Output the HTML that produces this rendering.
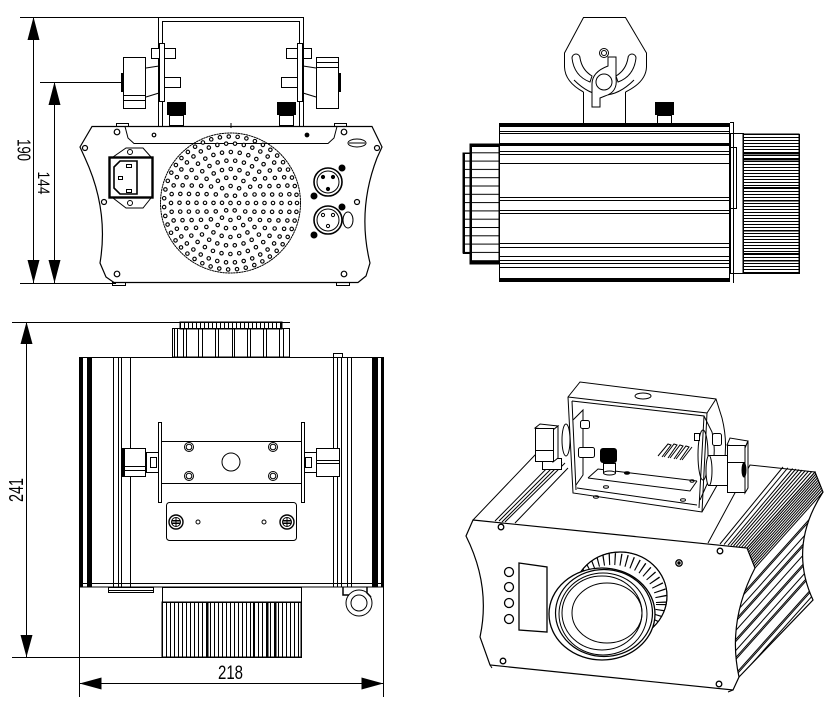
<!DOCTYPE html>
<html><head><meta charset="utf-8"><title>drawing</title>
<style>html,body{margin:0;padding:0;background:#fff;width:837px;height:707px;overflow:hidden}svg{display:block}</style>
</head><body>
<svg xmlns="http://www.w3.org/2000/svg" width="837" height="707" viewBox="0 0 837 707">
<defs>
<pattern id="hs" patternUnits="userSpaceOnUse" x="0" y="134" width="10" height="3"><rect x="0" y="0" width="10" height="1" fill="#000"/></pattern>
<pattern id="bh" patternUnits="userSpaceOnUse" x="162" y="0" width="4" height="10"><rect x="0" y="0" width="1" height="10" fill="#000"/></pattern>
<pattern id="tl" patternUnits="userSpaceOnUse" x="180" y="0" width="4" height="10"><rect x="0" y="0" width="1" height="10" fill="#000"/></pattern>
<pattern id="lr" patternUnits="userSpaceOnUse" x="0" y="144" width="10" height="8.3"><rect x="0" y="0" width="10" height="1" fill="#000"/></pattern>
<clipPath id="rf"><path d="M747,548 L815,472 L823,492 Q788,546 813,600 L739,677 Q727,622 755,568 Z"/></clipPath>
<clipPath id="kn"><ellipse cx="620" cy="596" rx="47" ry="44"/></clipPath>
</defs>
<rect width="837" height="707" fill="#fff"/>

<!-- ================= VIEW 1 : FRONT ================= -->
<g fill="none" stroke="#000" stroke-width="1">
  <line x1="20" y1="17.5" x2="160" y2="17.5"/>
  <line x1="33.5" y1="17" x2="33.5" y2="283"/>
  <line x1="40" y1="82.5" x2="122" y2="82.5"/>
  <line x1="54.5" y1="82" x2="54.5" y2="283"/>
  <line x1="20" y1="283.5" x2="116" y2="283.5"/>
  <g fill="#000" stroke="none">
    <polygon points="33.5,17 27.5,40 39.5,40"/>
    <polygon points="33.5,283 27.5,260 39.5,260"/>
    <polygon points="54.5,82 48.5,105 60.5,105"/>
    <polygon points="54.5,283 48.5,260 60.5,260"/>
  </g>

  <path d="M158.5,127 V17.5 H303.5 V127"/>
  <path d="M162.5,127 V21.5 H299.5 V127"/>
  <rect x="159.5" y="43.5" width="5" height="58" fill="#fff"/>
  <rect x="297.5" y="43.5" width="5" height="58" fill="#fff"/>
  <rect x="151.5" y="48.5" width="8" height="10" fill="#fff"/>
  <rect x="164.5" y="48.5" width="11" height="10"/>
  <rect x="164.5" y="77.5" width="16" height="10"/>
  <rect x="303.5" y="48.5" width="8" height="10" fill="#fff"/>
  <rect x="286.5" y="48.5" width="11" height="10"/>
  <rect x="281.5" y="77.5" width="16" height="10"/>
  <line x1="146" y1="68" x2="159" y2="66"/>
  <line x1="146" y1="97" x2="159" y2="93"/>
  <line x1="303" y1="66" x2="316" y2="68"/>
  <line x1="303" y1="93" x2="316" y2="97"/>
  <rect x="123.5" y="57.5" width="22" height="51" fill="#fff"/>
  <line x1="123" y1="95.5" x2="146" y2="95.5"/>
  <line x1="123" y1="100.5" x2="146" y2="100.5"/>
  <rect x="121" y="73" width="3" height="19" fill="#000" stroke="none"/>
  <rect x="316.5" y="57.5" width="22" height="51" fill="#fff"/>
  <line x1="316" y1="62.5" x2="339" y2="62.5"/>
  <line x1="316" y1="67.5" x2="339" y2="67.5"/>
  <rect x="338" y="73" width="3" height="19" fill="#000" stroke="none"/>
  <rect x="167" y="102" width="19" height="13" fill="#000" stroke="none"/>
  <rect x="169.5" y="115.5" width="14" height="10"/>
  <rect x="277" y="102" width="19" height="13" fill="#000" stroke="none"/>
  <rect x="279.5" y="115.5" width="14" height="10"/>

  <path d="M92,126.5 H372 L382,147 L377,158 Q357,210 370,263 L366,276 L358,282.5 H114 L106,277 L100,263 Q109,210 85,158 L80,147 Z" stroke-width="1.2"/>
  <rect x="116.5" y="123.5" width="12" height="3"/>
  <rect x="334.5" y="123.5" width="12" height="3"/>
  <rect x="112.5" y="282.5" width="13" height="3"/>
  <rect x="336.5" y="282.5" width="13" height="3"/>
  <path d="M125,126.5 L128,138 L134,143.5 H328 L334,138 L337,126.5"/>
  <line x1="231" y1="123" x2="231" y2="128"/>
  <g stroke-width="1.2">
    <circle cx="117" cy="132" r="2.8"/>
    <circle cx="344" cy="132" r="2.8"/>
    <circle cx="85" cy="148" r="2.5"/>
    <circle cx="377" cy="148" r="2.5"/>
    <circle cx="104" cy="202" r="2.5"/>
    <circle cx="357" cy="202" r="2.5"/>
    <circle cx="117" cy="274" r="2.8"/>
    <circle cx="344" cy="274" r="2.8"/>
    <circle cx="154" cy="135" r="1.8"/>
    <circle cx="307" cy="135" r="1.8" fill="#000"/>
  </g>
  <ellipse cx="357" cy="143" rx="9" ry="4"/>
  <line x1="349" y1="143" x2="365" y2="143"/>

  <path d="M113,157 L126,148 H143 L151,157"/>
  <path d="M113,198 L126,208 H143 L151,198"/>
  <circle cx="130" cy="152" r="2.5"/>
  <circle cx="130" cy="203" r="2.5"/>
  <rect x="109.5" y="157.5" width="43" height="40" stroke-width="2.4"/>
  <path d="M120,161 H137 V194 H120 L114,188 V167 Z" stroke-width="1.6"/>
  <rect x="126.5" y="164.5" width="5" height="3"/>
  <rect x="118.5" y="176.5" width="4" height="3"/>
  <rect x="126.5" y="189.5" width="5" height="3"/>

  <circle cx="328" cy="182" r="14" stroke-width="1.6"/>
  <circle cx="328" cy="182" r="11"/>
  <circle cx="323" cy="177" r="1.6" fill="#000"/>
  <circle cx="333" cy="177" r="1.6" fill="#000"/>
  <circle cx="328" cy="189" r="1.6" fill="#000"/>
  <circle cx="342" cy="168" r="3" fill="#000"/>
  <circle cx="314" cy="196" r="3" fill="#000"/>
  <circle cx="328" cy="220" r="14" stroke-width="1.6"/>
  <circle cx="328" cy="220" r="11"/>
  <circle cx="323" cy="215" r="1.6"/>
  <circle cx="333" cy="215" r="1.6"/>
  <circle cx="328" cy="226" r="1.6"/>
  <circle cx="342" cy="207" r="3" fill="#000"/>
  <circle cx="314" cy="235" r="3" fill="#000"/>
  <ellipse cx="348" cy="220" rx="5" ry="8"/>
</g>

<g transform="translate(230.5,203)" fill="none" stroke-linecap="round">
  <circle r="70" stroke="#000" stroke-width="1" stroke-dasharray="1.5 1.2"/>
  <g stroke="#000" stroke-width="4.6" stroke-dasharray="0 8.9">
    <circle r="8.5"/><circle r="17"/><circle r="25.5"/><circle r="34"/>
    <circle r="42.5"/><circle r="51"/><circle r="59.5"/><circle r="66.5"/>
  </g>
  <g stroke="#fff" stroke-width="2.4" stroke-dasharray="0 8.9">
    <circle r="8.5"/><circle r="17"/><circle r="25.5"/><circle r="34"/>
    <circle r="42.5"/><circle r="51"/><circle r="59.5"/><circle r="66.5"/>
  </g>
  <circle r="1.8" stroke="#000" stroke-width="1.1"/>
</g>

<g font-family="'Liberation Sans', sans-serif" fill="#000">
  <text transform="translate(17.5,150) rotate(90)" text-anchor="middle" font-size="18" textLength="22" lengthAdjust="spacingAndGlyphs">190</text>
  <text transform="translate(38,183) rotate(90)" text-anchor="middle" font-size="17" textLength="23" lengthAdjust="spacingAndGlyphs">144</text>
  <text transform="translate(23,490) rotate(-90)" text-anchor="middle" font-size="20" textLength="24" lengthAdjust="spacingAndGlyphs">241</text>
  <text x="230.5" y="679" text-anchor="middle" font-size="19" textLength="25" lengthAdjust="spacingAndGlyphs">218</text>
</g>

<!-- ================= VIEW 2 : SIDE ================= -->
<g fill="none" stroke="#000" stroke-width="1">
  <path d="M583.5,92 Q565,82 564.5,67 V53 L583.5,17.5 H625.5 L646.5,53 V67 Q646,82 625.5,92"/>
  <path d="M583.5,92 V124 M625.5,92 V124"/>
  <path d="M572,58 A4,4 0 0 1 580,58 Q582,70 592,76 L590,82 Q574,76 572,58 Z"/>
  <path d="M636,58 A4,4 0 0 0 628,58 Q626,70 616,76 L618,82 Q634,76 636,58 Z"/>
  <path d="M574,80 Q604,110 634,80"/>
  <circle cx="604" cy="53" r="4.5"/>
  <circle cx="604" cy="53" r="2.5"/>
  <path d="M608,57 H616 V78 Q618,92 605,96 L600,98 V107 H592 V84 Q592,72 608,66 Z" fill="#fff"/>
  <circle cx="604" cy="82" r="8" fill="#fff"/>
  <rect x="655" y="102" width="19" height="13" fill="#000" stroke="none"/>
  <rect x="657.5" y="115.5" width="14" height="8"/>
  <rect x="499.5" y="124.5" width="230" height="157"/>
  <line x1="733.5" y1="122" x2="733.5" y2="283"/>
  <line x1="730" y1="122.5" x2="734" y2="122.5"/>
  <g fill="#000" stroke="none">
    <rect x="499" y="123" width="231" height="4"/>
    <rect x="499" y="143" width="231" height="3"/>
    <rect x="499" y="278" width="231" height="4"/>
  </g>
  <path d="M499,131.5 H730 M499,133.5 H730 M499,151.5 H730 M499,154.5 H730 M499,163.5 H730 M499,197.5 H730 M499,200.5 H730 M499,210.5 H730 M499,213.5 H730 M499,243.5 H730 M499,247.5 H730 M499,256.5 H730 M499,260.5 H730 M499,263.5 H730 M499,267.5 H730"/>
  <rect x="463" y="153" width="8" height="100" fill="url(#lr)"/>
  <rect x="463.5" y="153.5" width="7" height="100"/>
  <rect x="470" y="144" width="29" height="120" fill="url(#lr)"/>
  <rect x="470.5" y="144.5" width="29" height="119"/>
  <rect x="463" y="153" width="2" height="101" fill="#000" stroke="none"/>
  <rect x="470" y="144" width="2" height="120" fill="#000" stroke="none"/>
  <rect x="470" y="144" width="29" height="3" fill="#000" stroke="none"/>
  <rect x="470" y="261" width="29" height="3" fill="#000" stroke="none"/>
  <rect x="730.5" y="133.5" width="13" height="140"/>
  <rect x="730.5" y="147.5" width="6" height="61"/>
  <rect x="743" y="134" width="56" height="139" fill="url(#hs)"/>
  <rect x="743.5" y="134.5" width="56" height="139"/>
  <g fill="#000" stroke="none">
    <rect x="743" y="153" width="56" height="1.5"/>
    <rect x="743" y="159" width="56" height="1.5"/>
    <rect x="743" y="187" width="56" height="1.5"/>
    <rect x="743" y="200" width="56" height="1.5"/>
    <rect x="743" y="230" width="56" height="1.5"/>
    <rect x="743" y="253" width="56" height="1.5"/>
    <rect x="743" y="260" width="56" height="1.5"/>
  </g>
</g>

<!-- ================= VIEW 3 : TOP ================= -->
<g fill="none" stroke="#000" stroke-width="1">
  <line x1="12" y1="322.5" x2="290" y2="322.5"/>
  <line x1="12" y1="657.5" x2="300" y2="657.5"/>
  <line x1="26.5" y1="322" x2="26.5" y2="657"/>
  <line x1="79.5" y1="587" x2="79.5" y2="697"/>
  <line x1="383.5" y1="587" x2="383.5" y2="697"/>
  <line x1="79" y1="683.5" x2="383" y2="683.5"/>
  <g fill="#000" stroke="none">
    <polygon points="26.5,322 20.5,344 32.5,344"/>
    <polygon points="26.5,657 20.5,635 32.5,635"/>
    <polygon points="79.5,683.5 101.5,677.5 101.5,689.5"/>
    <polygon points="383.5,683.5 361.5,677.5 361.5,689.5"/>
  </g>
  <rect x="180" y="322" width="102" height="7" fill="url(#tl)"/>
  <rect x="180.5" y="322.5" width="101" height="6"/>
  <rect x="172.5" y="328.5" width="117" height="28.5"/>
  <path d="M174.5,329 V357 M177.5,329 V357 M183.5,329 V357 M186.5,329 V357 M198.5,329 V357 M202.5,329 V357 M215.5,329 V357 M218.5,329 V357 M232.5,329 V357 M234.5,329 V357 M247.5,329 V357 M250.5,329 V357 M263.5,329 V357 M266.5,329 V357 M279.5,329 V357 M283.5,329 V357"/>
  <rect x="79.5" y="357.5" width="303.5" height="229.5"/>
  <line x1="79" y1="583.5" x2="383" y2="583.5"/>
  <g fill="#000" stroke="none">
    <rect x="79" y="357" width="4" height="230"/>
    <rect x="87" y="357" width="5" height="230"/>
    <rect x="372" y="357" width="6" height="230"/>
    <rect x="381" y="357" width="3" height="230"/>
  </g>
  <path d="M113.5,357 V587 M118.5,357 V587 M121.5,357 V587 M130.5,357 V587 M333.5,357 V587 M337.5,357 V587 M341.5,357 V587 M347.5,357 V587 M351.5,357 V587"/>
  <rect x="333.5" y="353.5" width="9" height="4"/>
  <rect x="108.5" y="587.5" width="45" height="5"/>
  <line x1="108" y1="590.5" x2="153" y2="590.5"/>
  <rect x="162.5" y="587.5" width="139" height="14.5"/>
  <rect x="162" y="602" width="139" height="55" fill="url(#bh)"/>
  <rect x="162.5" y="602.5" width="139" height="55"/>
  <g fill="#000" stroke="none">
    <rect x="207" y="602" width="1.5" height="55"/>
    <rect x="253" y="602" width="1.5" height="55"/>
    <rect x="267" y="602" width="1.5" height="55"/>
    <rect x="275" y="602" width="1.5" height="55"/>
  </g>
  <circle cx="359" cy="603" r="13" fill="#fff"/>
  <circle cx="359" cy="603" r="8"/>
  <path d="M343,587 V595 H349 M367,587 V593 L371,597" stroke-width="1.5"/>
  <rect x="158.5" y="422.5" width="3" height="80"/>
  <rect x="301.5" y="422.5" width="3" height="80"/>
  <rect x="161.5" y="441.5" width="140" height="42"/>
  <circle cx="189" cy="447" r="4.5"/><circle cx="189" cy="447" r="2.8"/>
  <circle cx="273" cy="447" r="4.5"/><circle cx="273" cy="447" r="2.8"/>
  <circle cx="189" cy="476" r="4.5"/><circle cx="189" cy="476" r="2.8"/>
  <circle cx="273" cy="476" r="4.5"/><circle cx="273" cy="476" r="2.8"/>
  <circle cx="231" cy="462" r="9"/>
  <rect x="146.5" y="452.5" width="12" height="20"/>
  <rect x="150.5" y="457.5" width="6" height="10"/>
  <rect x="122.5" y="448.5" width="23" height="28" fill="#fff"/>
  <rect x="122" y="448" width="3" height="29" fill="#000" stroke="none"/>
  <line x1="122" y1="466.5" x2="146" y2="466.5"/>
  <line x1="122" y1="470.5" x2="146" y2="470.5"/>
  <rect x="304.5" y="452.5" width="12" height="20"/>
  <rect x="305.5" y="457.5" width="6" height="10"/>
  <rect x="316.5" y="448.5" width="23" height="28" fill="#fff"/>
  <line x1="316" y1="460.5" x2="340" y2="460.5"/>
  <line x1="316" y1="463.5" x2="340" y2="463.5"/>
  <rect x="166.5" y="502.5" width="130" height="38" rx="3"/>
  <circle cx="176" cy="522" r="7" stroke-width="1.4"/>
  <circle cx="176" cy="522" r="4.5"/>
  <path d="M171.5,522 H180.5 M176,517.5 V526.5 M171.5,520.5 H180.5 M171.5,523.5 H180.5"/>
  <circle cx="287" cy="522" r="7" stroke-width="1.4"/>
  <circle cx="287" cy="522" r="4.5"/>
  <path d="M282.5,522 H291.5 M287,517.5 V526.5 M282.5,520.5 H291.5 M282.5,523.5 H291.5"/>
  <circle cx="198" cy="522" r="2"/>
  <circle cx="264" cy="522" r="2"/>
</g>

<!-- ================= VIEW 4 : ISOMETRIC ================= -->
<g fill="none" stroke="#000" stroke-width="1">
  <g clip-path="url(#rf)">
    <path d="M700,641.5 L850,473.8 M700,643.5 L850,475.8 M700,652.5 L850,484.8 M700,659.5 L850,491.8 M700,661.5 L850,493.8 M700,670.5 L850,502.8 M700,679.5 L850,511.8 M700,681.5 L850,513.8 M700,690.5 L850,522.8 M700,697.5 L850,529.8 M700,699.5 L850,531.8 M700,713.5 L850,545.8 M700,715.5 L850,547.8 M700,721.5 L850,553.8"/>
  </g>
  <path d="M747.8,550 L815.8,474 M748.6,552 L816.6,476 M749.4,554 L817.4,478 M750.2,556 L818.2,480 M751,558 L819,482 M751.8,560 L819.8,484 M752.6,562 L820.6,486 M753.4,564 L821.4,488 M754.2,566 L822.2,490 M755,568 L823,492"/>
  <path d="M747,548 L815,472 L823,492 Q788,546 813,600 L739,677" stroke-width="1.2"/>
  <path d="M708,543 L750,465 L815,472"/>
  <path d="M720,544 L783,467 M724,544.6 L787.8,467.8 M728.1,545.2 L792.6,468.5 M730.8,545.6 L795.8,469 M733.5,546 L799,469.5 M736.2,546.4 L802.2,470 M738.9,546.8 L805.4,470.5 M741.6,547.2 L808.6,471 M744.3,547.6 L811.8,471.5"/>
  <path d="M473,520 L535,455 L546,455"/>
  <path d="M495,521 L555,460 M499,521 L559,461 M502,522 L562,462 M505,522 L565,463 M515,523 L568,468"/>

  <path d="M473,520 L747,548 L755,568 Q727,622 739,677 L733,690 L490,665 L480,637 Q491,586 466,536 Z" fill="#fff" stroke-width="1.2"/>
  <line x1="490" y1="665" x2="492" y2="668"/>
  <line x1="733" y1="690" x2="728" y2="692"/>
  <circle cx="509" cy="572" r="4.5" stroke-width="1.3"/>
  <circle cx="509" cy="587" r="4.5" stroke-width="1.3"/>
  <circle cx="509" cy="603" r="4.5" stroke-width="1.3"/>
  <circle cx="509" cy="619" r="4.5" stroke-width="1.3"/>
  <polygon points="519,563 547,567 547,632 519,630" stroke-width="1.3"/>
  <circle cx="501" cy="527" r="2.8" stroke-width="1.3"/>
  <circle cx="720" cy="551" r="2.8" stroke-width="1.3"/>
  <circle cx="503" cy="661" r="2.8" stroke-width="1.3"/>
  <circle cx="719" cy="684" r="2.8" stroke-width="1.3"/>
  <circle cx="679" cy="563" r="3.2" stroke-width="1.3"/>
  <circle cx="679" cy="563" r="1.2" fill="#000"/>
  <!-- lens -->
  <ellipse cx="620" cy="596" rx="47" ry="44" fill="#fff"/>
  <g clip-path="url(#kn)">
    <ellipse cx="612" cy="604" rx="50" ry="45" stroke-width="12" stroke-dasharray="1.2 4.6"/>
  </g>
  <ellipse cx="620" cy="596" rx="47" ry="44" stroke-width="1.2"/>
  <ellipse cx="602" cy="614" rx="53" ry="46" fill="#fff" stroke-width="1.3"/>
  <ellipse cx="604" cy="613" rx="48.5" ry="43.5" stroke-width="1.2"/>
  <ellipse cx="603" cy="614" rx="44" ry="41"/>
  <ellipse cx="602" cy="613" rx="40" ry="37"/>
  <ellipse cx="607" cy="613" rx="35" ry="30"/>

  <path d="M568,397 L580,382 L716,399 L722,418 Q730,450 720,480 L702,512 L573,493 Z" fill="#fff"/>
  <path d="M568,397 L707,413 L702,512"/>
  <path d="M572,401 L704,416 L699,508"/>
  <path d="M572,401 L576,490 M577,488 L697,505"/>
  <path d="M716,399 L707,413"/>
  <path d="M704,416 L712,432 Q718,456 708,482 L700,500"/>
  <ellipse cx="643" cy="396" rx="8" ry="3"/>
  <path d="M573,420 L583,410 V475 L576,485"/>
  <ellipse cx="566" cy="440" rx="4" ry="16"/>
  <ellipse cx="703" cy="455" rx="5" ry="25"/>
  <rect x="580.5" y="420.5" width="9" height="8" rx="2" fill="#fff"/>
  <rect x="578.5" y="447.5" width="16" height="10" rx="2" fill="#fff"/>
  <rect x="694.5" y="433.5" width="5" height="7" fill="#fff"/>
  <rect x="712.5" y="433.5" width="9" height="12" rx="2" fill="#fff"/>
  <path d="M658,456 L668,444 L671,445 L662,457 M664,457 L674,444 L677,445 L668,458 M670,458 L680,445 L683,446 L674,459 M676,459 L686,446 L689,447 L680,460 M682,460 L692,447"/>
  <path d="M588,478 L598,469 L697,481 M588,478 L690,491 L697,481"/>
  <rect x="600" y="448" width="17" height="15" rx="3" fill="#000" stroke="none"/>
  <rect x="603.5" y="463.5" width="12" height="9" fill="#fff"/>
  <ellipse cx="609.5" cy="473" rx="6" ry="2" fill="#fff"/>
  <ellipse cx="627" cy="473" rx="2.5" ry="1.2" fill="#000"/>
  <ellipse cx="606" cy="487" rx="2.5" ry="1.2"/>
  <ellipse cx="596" cy="497" rx="2.5" ry="1.2"/>
  <ellipse cx="683" cy="500" rx="2.5" ry="1.2"/>
  <ellipse cx="692" cy="481" rx="2" ry="1.2"/>
  <rect x="542.5" y="458.5" width="19" height="11" fill="#fff"/>
  <path d="M535,428 L540,424 L558,426 L553,430 Z" fill="#fff"/>
  <path d="M553,430 L558,426 V458 L553,462 Z" fill="#fff"/>
  <rect x="535.5" y="428.5" width="18" height="33" fill="#fff"/>
  <line x1="535" y1="450.5" x2="553" y2="450.5"/>
  <rect x="708.5" y="455.5" width="19" height="30" fill="#fff"/>
  <ellipse cx="709" cy="470.5" rx="3" ry="15" fill="#fff"/>
  <path d="M727,445 L730,438 L748,441 L745,448 Z" fill="#fff"/>
  <path d="M745,448 L748,441 V488 L745,493 Z" fill="#fff"/>
  <rect x="727.5" y="445.5" width="17.5" height="47" fill="#fff"/>
  <line x1="727" y1="462.5" x2="745" y2="462.5"/>
  <ellipse cx="744" cy="470" rx="2" ry="7" fill="#000"/>
</g>
</svg>
</body></html>
